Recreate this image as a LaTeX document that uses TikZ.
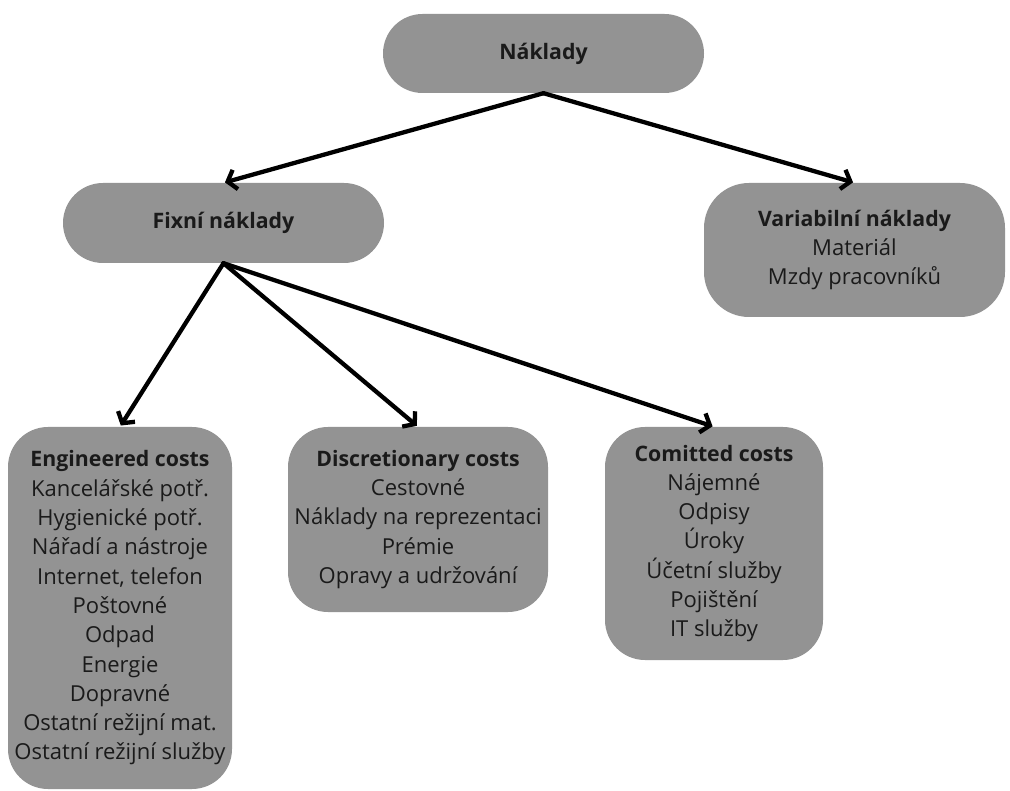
\documentclass[tikz,border=0pt]{standalone}
\usepackage{fontspec}
\setmainfont{Open Sans}
\usetikzlibrary{arrows.meta}
\definecolor{boxgray}{RGB}{147,147,147}
\definecolor{txt}{RGB}{26,26,26}
\newcommand{\hd}[1]{{\fontsize{21.3}{29.3}\selectfont\bfseries #1}}
\begin{document}
\begin{tikzpicture}[x=1pt,y=-1pt,
  box/.style={fill=boxgray, text=txt, inner sep=0pt, align=center,
    font=\fontsize{22}{29.3}\selectfont, rounded corners=40pt},
  conn/.style={line width=4.3pt, -{Straight Barb[length=8pt,width=20pt]},
    line cap=round, line join=round, shorten >=1.5pt}]
\useasboundingbox (0,0) rectangle (1010,791);
\node[box, minimum width=321pt, minimum height=79pt, rounded corners=39.5pt] (nak) at (543.5,53.5) {\hd{Náklady}};
\node[box, minimum width=321pt, minimum height=80pt, rounded corners=40pt] (fix) at (223.5,223) {\hd{Fixní náklady}};
\node[box, minimum width=301pt, minimum height=134pt, rounded corners=45pt] (var) at (854.5,250) {\hd{Variabilní náklady}\\Materiál\\Mzdy pracovníků};
\node[box, minimum width=224pt, minimum height=362pt] (eng) at (120,608) {\hd{Engineered costs}\\Kancelářské potř.\\Hygienické potř.\\Nářadí a nástroje\\Internet, telefon\\Poštovné\\Odpad\\Energie\\Dopravné\\Ostatní režijní mat.\\Ostatní režijní služby};
\node[box, minimum width=260pt, minimum height=185pt] (dis) at (418,519.5) {\hd{Discretionary costs}\\Cestovné\\Náklady na reprezentaci\\Prémie\\Opravy a udržování};
\node[box, minimum width=218pt, minimum height=233pt] (com) at (714,543.5) {\hd{Comitted costs}\\Nájemné\\Odpisy\\Úroky\\Účetní služby\\Pojištění\\IT služby};
\draw[conn] (nak.south) -- (fix.north);
\draw[conn] (nak.south) -- (var.north);
\draw[conn] (fix.south) -- (eng.north);
\draw[conn] (fix.south) -- (dis.north);
\draw[conn] (fix.south) -- (com.north);
\end{tikzpicture}
\end{document}
